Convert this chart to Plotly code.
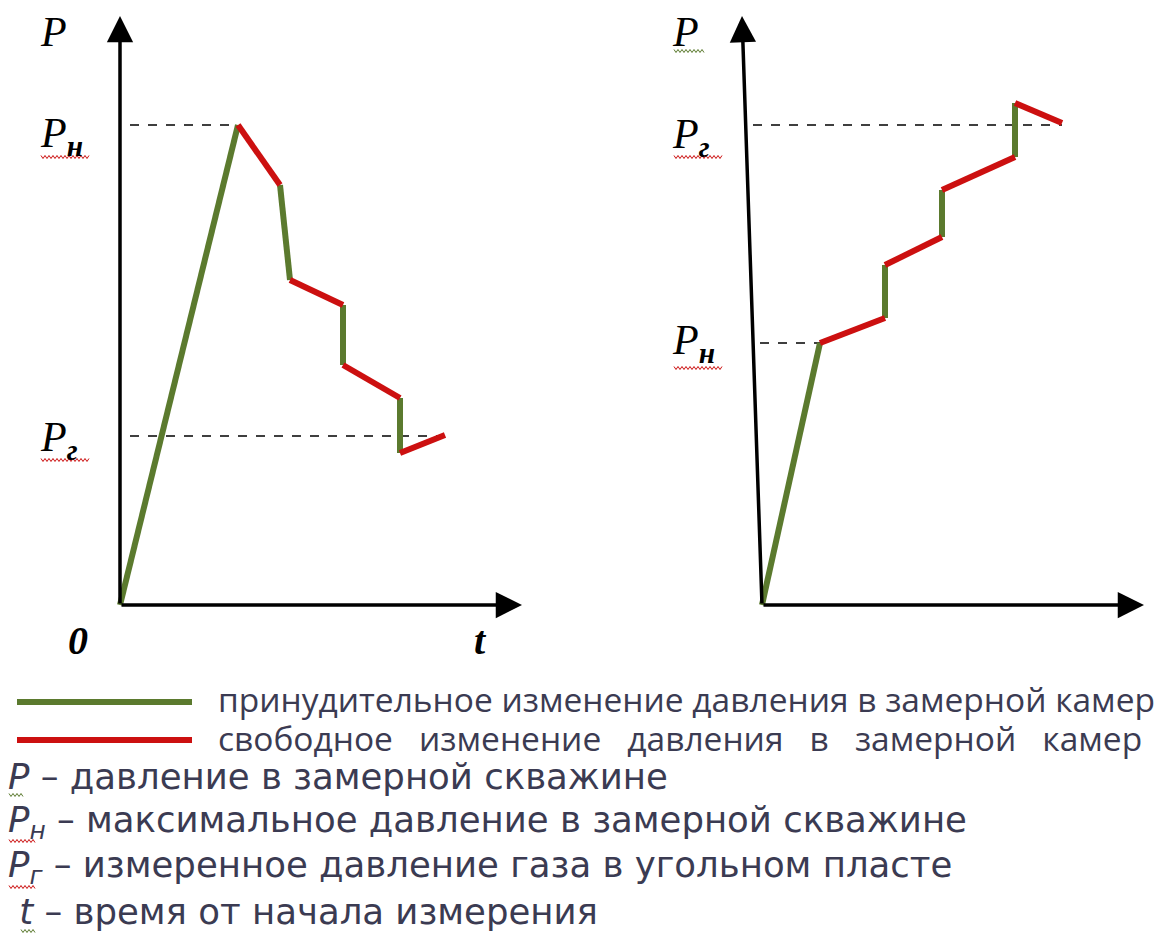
import plotly.graph_objects as go

# --- data (schematic units: t, P) ---
left_t = [0, 11.8, 16.0, 17.0, 22.3, 22.3, 28.0, 28.0, 32.5]
left_p = [0, 48.0, 42.0, 32.5, 30.0, 24.0, 20.7, 15.2, 17.0]
right_t = [0, 5.8, 12.3, 12.3, 18.0, 18.0, 25.3, 25.3, 30.0]
right_p = [0, 26.2, 28.7, 34.0, 36.8, 41.5, 44.8, 50.2, 48.2]
# segment kind: f = forced (green), s = free (red)
left_kind = ["f", "s", "f", "s", "f", "s", "f", "s"]
right_kind = ["f", "s", "f", "s", "f", "s", "f", "s"]

left_pn, left_pg = 48.0, 16.9
right_pn, right_pg = 26.2, 48.0

gap = "\u00a0" * 2 + " "
legend_lines = [
    "принудительное изменение давления в замерной камер",
    gap.join(["свободное", "изменение", "давления", "в", "замерной", "камер"]),
]
notes = [
    "<i>P</i> – давление в замерной скважине",
    "<i>P<sub>н</sub></i> – максимальное давление в замерной скважине",
    "<i>P<sub>г</sub></i> – измеренное давление газа в угольном пласте",
    "\u00a0<i>t</i> – время от начала измерения",
]

GREEN = "#5b7a2e"
RED = "#cc1010"
W, H = 1165, 935

fig = go.Figure()


def add_path(t, p, kinds, xa, ya):
    for kind, col in (("f", GREEN), ("s", RED)):
        xs, ys = [], []
        for i, k in enumerate(kinds):
            if k == kind:
                xs += [t[i], t[i + 1], None]
                ys += [p[i], p[i + 1], None]
        fig.add_trace(go.Scatter(x=xs, y=ys, mode="lines", xaxis=xa, yaxis=ya,
                                 line=dict(color=col, width=6), hoverinfo="skip",
                                 showlegend=False))


def add_dash(t0, t1, p, xa, ya):
    fig.add_trace(go.Scatter(x=[t0, t1], y=[p, p], mode="lines", xaxis=xa, yaxis=ya,
                             line=dict(color="black", width=1.5, dash="dash"),
                             hoverinfo="skip", showlegend=False))


# dashed reference levels
add_dash(1.0, left_t[1], left_pn, "x", "y")
add_dash(1.0, left_t[-1], left_pg, "x", "y")
add_dash(-0.9, right_t[-1], right_pg, "x2", "y2")
add_dash(-0.2, right_t[1], right_pn, "x2", "y2")

add_path(left_t, left_p, left_kind, "x", "y")
add_path(right_t, right_p, right_kind, "x2", "y2")


# axes as arrows
def arrow(xref, yref, x0, y0, x1, y1):
    fig.add_annotation(x=x1, y=y1, ax=x0, ay=y0, xref=xref, yref=yref,
                       axref=xref, ayref=yref, showarrow=True, arrowhead=2,
                       arrowsize=1.5, arrowwidth=3.5, arrowcolor="black", text="")


arrow("x", "y", 0, 0, 0, 58.9)
arrow("x", "y", 0, 0, 40.2, 0)
arrow("x2", "y2", 0, 0, -2.0, 58.9)
arrow("x2", "y2", 0, 0, 38.2, 0)


def px(x, y):
    return x / W, 1 - y / H


serif = "Liberation Serif"


def label(text, x, y, size=42, bold=False, anchor="left"):
    xx, yy = px(x, y)
    fig.add_annotation(x=xx, y=yy, xref="paper", yref="paper", showarrow=False,
                       xanchor=anchor, yanchor="middle",
                       text=(f"<b><i>{text}</i></b>" if bold else f"<i>{text}</i>"),
                       font=dict(family=serif, size=size, color="black"))


# spell-check style wavy underline
def squiggle(x, y, length, col):
    pts = []
    k = 0
    while k * 2 <= length:
        xx, yy = px(x + k * 2, y + (1.5 if k % 2 else -1.5))
        pts.append(f"{xx:.5f},{yy:.5f}")
        k += 1
    fig.add_shape(type="path", xref="paper", yref="paper", path="M" + " L".join(pts),
                  line=dict(color=col, width=1))


label("P", 38, 32)
label("P<sub><b>н</b></sub>", 38, 136)
label("P<sub><b>г</b></sub>", 38, 440)
label("0", 66, 640, size=40, bold=True)
label("t", 472, 640, size=40, bold=True)
label("P", 670, 32)
label("P<sub><b>г</b></sub>", 670, 137)
label("P<sub><b>н</b></sub>", 670, 343)

squiggle(41, 157, 48, RED)
squiggle(41, 460, 48, RED)
squiggle(674, 51, 30, GREEN)
squiggle(674, 157, 48, RED)
squiggle(674, 368, 48, RED)

# legend lines and texts
for yp, col in ((702, GREEN), (740, RED)):
    x0, y0 = px(17, yp)
    x1, _ = px(192, yp)
    fig.add_shape(type="line", xref="paper", yref="paper", x0=x0, x1=x1, y0=y0, y1=y0,
                  line=dict(color=col, width=6))

txt_color = "#3b3b52"
for i, s in enumerate(legend_lines):
    xx, yy = px(216, [699, 738][i])
    fig.add_annotation(x=xx, y=yy, xref="paper", yref="paper", showarrow=False,
                       xanchor="left", yanchor="middle", text=s,
                       font=dict(family="Open Sans", size=33.5, color=txt_color))
for i, s in enumerate(notes):
    xx, yy = px(6, [776, 822, 867, 911][i])
    fig.add_annotation(x=xx, y=yy, xref="paper", yref="paper", showarrow=False,
                       xanchor="left", yanchor="middle", text=s,
                       font=dict(family="DejaVu Sans", size=35.5, color=txt_color))

squiggle(9, 795, 14, GREEN)
squiggle(9, 841, 26, RED)
squiggle(9, 887, 26, RED)
squiggle(21, 931, 14, GREEN)

ax_common = dict(visible=False, showgrid=False, zeroline=False, fixedrange=True)
split = 640 / W
fig.update_layout(
    width=W, height=H, margin=dict(l=0, r=0, t=0, b=0),
    paper_bgcolor="white", plot_bgcolor="white",
    xaxis=dict(domain=[0, split], range=[-12.0, 52.0], **ax_common),
    yaxis=dict(domain=[0, 1], range=[-33.0, 60.5], anchor="x", **ax_common),
    xaxis2=dict(domain=[split, 1], range=[-12.2, 40.3], anchor="y2", **ax_common),
    yaxis2=dict(domain=[0, 1], range=[-33.0, 60.5], anchor="x2", **ax_common),
)

fig.write_html("out.html", config={"displayModeBar": False},
               post_script="document.body.style.margin='0';")
